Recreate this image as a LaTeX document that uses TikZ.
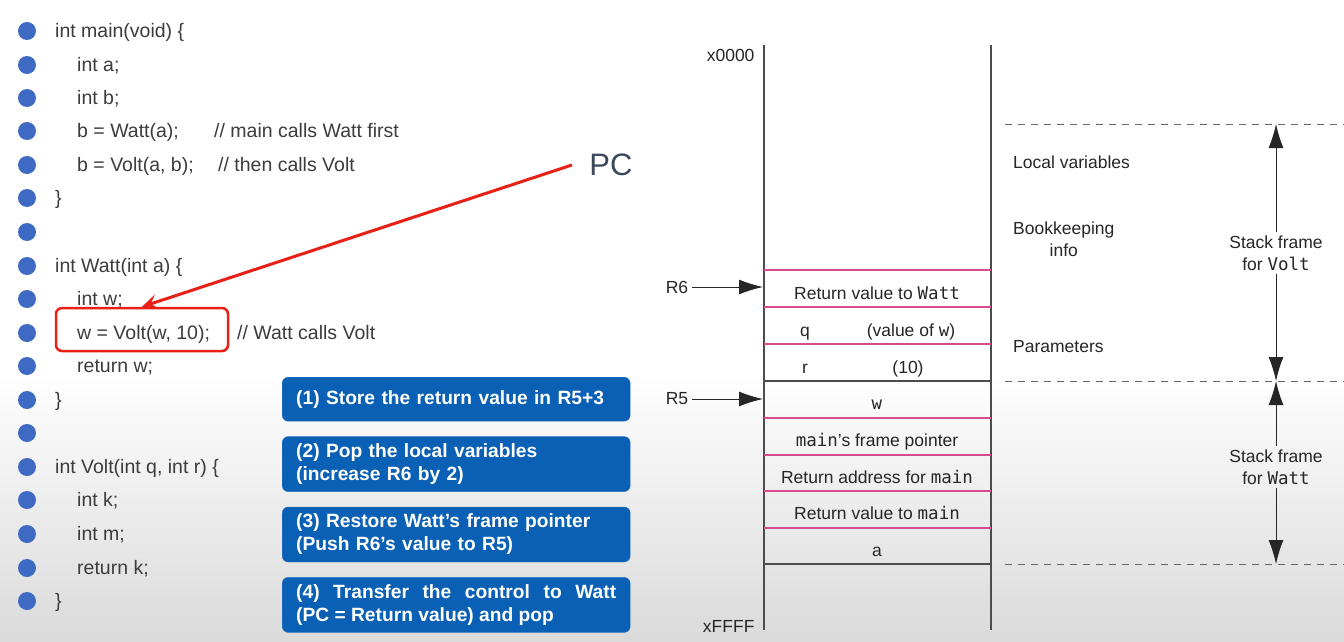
\documentclass[tikz,border=0pt]{standalone}
\usepackage{fontspec}
\setmainfont{Liberation Sans}
\setmonofont{DejaVu Sans Mono}
\usetikzlibrary{arrows.meta, positioning, calc}

\definecolor{codegray}{RGB}{60,60,60}
\definecolor{bulletblue}{RGB}{62,106,196}
\definecolor{boxblue}{RGB}{10,96,180}
\definecolor{pcred}{RGB}{232,32,22}
\definecolor{pcslate}{RGB}{60,72,92}
\definecolor{cellpink}{RGB}{214,76,142}
\definecolor{bggray}{RGB}{218,218,218}

\begin{document}
\begin{tikzpicture}[
		x=1pt, y=-1pt,
		bullet/.style={circle, fill=bulletblue, minimum size=18pt, inner sep=0pt},
		code/.style={anchor=west, inner sep=0pt, text=codegray, font=\fontsize{19.5}{23}\selectfont, text height=17pt, text depth=3.4pt},
		stepbox/.style={rectangle, rounded corners=6pt, fill=boxblue, draw=boxblue!85!white, text=white, text width=320pt, inner xsep=14pt, minimum height=55pt, font=\fontsize{19.2}{23}\bfseries\selectfont, align=left},
		cell/.style={inner sep=0pt, text=black!85, font=\fontsize{17.5}{21}\selectfont, text height=12.5pt, text depth=0pt},
		note/.style={text=black!85, font=\fontsize{17.5}{22}\selectfont, align=center},
		pinkline/.style={draw=cellpink, line width=1.2pt},
		darkline/.style={draw=black!70, line width=1.2pt},
		ptr/.style={draw=black!85, line width=1pt, -{Latex[length=24pt, width=15pt]}},
		dashed_line/.style={draw=black!60, line width=1pt, dash pattern=on 7pt off 6pt},
		pcline/.style={draw=pcred, line width=3pt, -{Stealth[length=16pt, width=15pt, inset=7pt]}}
	]
	\useasboundingbox (0,0) rectangle (1344,642);

	% Background
	\fill[white] (0,0) rectangle (1344,370);
	\shade[top color=white, bottom color=bggray] (0,370) rectangle (1344,642);

	% Bullets
	\foreach \y [count=\i] in {31,65,98,131,165,198,232,266,299,333,366,400,433,467,500,534,568,601}
		\node[bullet] (b\i) at (27,\y) {};

	% Code listing
	\node[code] (c1) at (55,31) {int main(void) \{};
	\node[code] (c2) at (77,65) {int a;};
	\node[code] (c3) at (77,98) {int b;};
	\node[code] (c4) at (77,131) {b = Watt(a);};
	\node[code] (c5) at (77,165) {b = Volt(a, b);};
	\node[code] (c6) at (55,198) {\}};
	\node[code] (c8) at (55,266) {int Watt(int a) \{};
	\node[code] (c9) at (77,299) {int w;};
	\node[code] (c10) at (77,333) {w = Volt(w, 10);};
	\node[code] (c11) at (77,366) {return w;};
	\node[code] (c12) at (55,400) {\}};
	\node[code] (c14) at (55,467) {int Volt(int q, int r) \{};
	\node[code] (c15) at (77,500) {int k;};
	\node[code] (c16) at (77,534) {int m;};
	\node[code] (c17) at (77,568) {return k;};
	\node[code] (c18) at (55,601) {\}};

	% Comments
	\node[code] (cm4) at (214,131) {// main calls Watt first};
	\node[code] (cm5) at (218,165) {// then calls Volt};
	\node[code] (cm10) at (237,333) {// Watt calls Volt};

	% Program counter
	\node[draw=pcred, line width=2.5pt, rounded corners=6pt, minimum width=172pt, minimum height=43pt] (callbox) at (142,329.5) {};
	\node[text=pcslate, font=\fontsize{31}{36}\selectfont] (pc) at (611,165) {PC};
	\path[pcline] ([xshift=-14pt]pc.west) -- (callbox.north);

	% Return steps
	\node[stepbox, minimum height=44pt, anchor=north west] (s1) at (282,377) {(1) Store the return value in R5+3};
	\node[stepbox, below=15pt of s1] (s2) {(2) Pop the local variables\\(increase R6 by 2)};
	\node[stepbox, below=15pt of s2] (s3) {(3) Restore Watt’s frame pointer\\(Push R6’s value to R5)};
	\node[stepbox, below=15pt of s3, align=justify] (s4) {(4) Transfer the control to Watt\linebreak (PC = Return value) and pop};

	% Memory
	\draw[darkline] (764,45) -- (764,630);
	\draw[darkline] (991,45) -- (991,630);
	\foreach \y in {270,307,344,418,455,491,528}
		\draw[pinkline] (764,\y) -- (991,\y);
	\foreach \y in {381,564}
		\draw[darkline] (764,\y) -- (991,\y);

	\node[note, anchor=east] (x0) at (758,55) {x0000};
	\node[note, anchor=east] (xf) at (758,626) {xFFFF};

	% Stack contents
	\node[cell] (rvw) at (877,293) {Return value to \texttt{Watt}};
	\node[cell] (q) at (805,330) {q};
	\node[cell] (qv) at (911,330) {(value of \texttt{w})};
	\node[cell] (r) at (805,367) {r};
	\node[cell] (rv) at (908,367) {(10)};
	\node[cell] (w) at (877,403) {\texttt{w}};
	\node[cell] (mfp) at (877,440) {\texttt{main}’s frame pointer};
	\node[cell] (rai) at (877,477) {Return address for \texttt{main}};
	\node[cell] (rvm) at (877,513) {Return value to \texttt{main}};
	\node[cell] (a) at (877,550) {a};

	% Registers
	\node[note] (r6) at (677,287) {R6};
	\node[note] (r5) at (677,399) {R5};
	\coordinate (r6p) at (763,287);
	\coordinate (r5p) at (763,399);
	\path[ptr] (r6) -- (r6p);
	\path[ptr] (r5) -- (r5p);

	% Frame notes
	\node[note, anchor=west, inner sep=0pt] (locv) at (1013,162) {Local variables};
	\node[note, anchor=west, inner sep=0pt] (book) at (1013,239) {Bookkeeping\\info};
	\node[note, anchor=west, inner sep=0pt] (param) at (1013,347) {Parameters};

	% Frame bounds
	\path[dashed_line] (1005,124) -- (1344,124);
	\path[dashed_line] (1005,381) -- (1344,381);
	\path[dashed_line] (1005,564) -- (1344,564);
	\coordinate (vtop) at (1276,124);
	\coordinate (vbot) at (1276,381);
	\coordinate (wbot) at (1276,564);

	\node[note] (volt) at (1276,253) {Stack frame\\for \texttt{Volt}};
	\node[note] (watt) at (1276,467) {Stack frame\\for \texttt{Watt}};
	\path[ptr] (volt) -- (vtop);
	\path[ptr] (volt) -- (vbot);
	\path[ptr] (watt) -- (vbot);
	\path[ptr] (watt) -- (wbot);

\end{tikzpicture}
\end{document}
